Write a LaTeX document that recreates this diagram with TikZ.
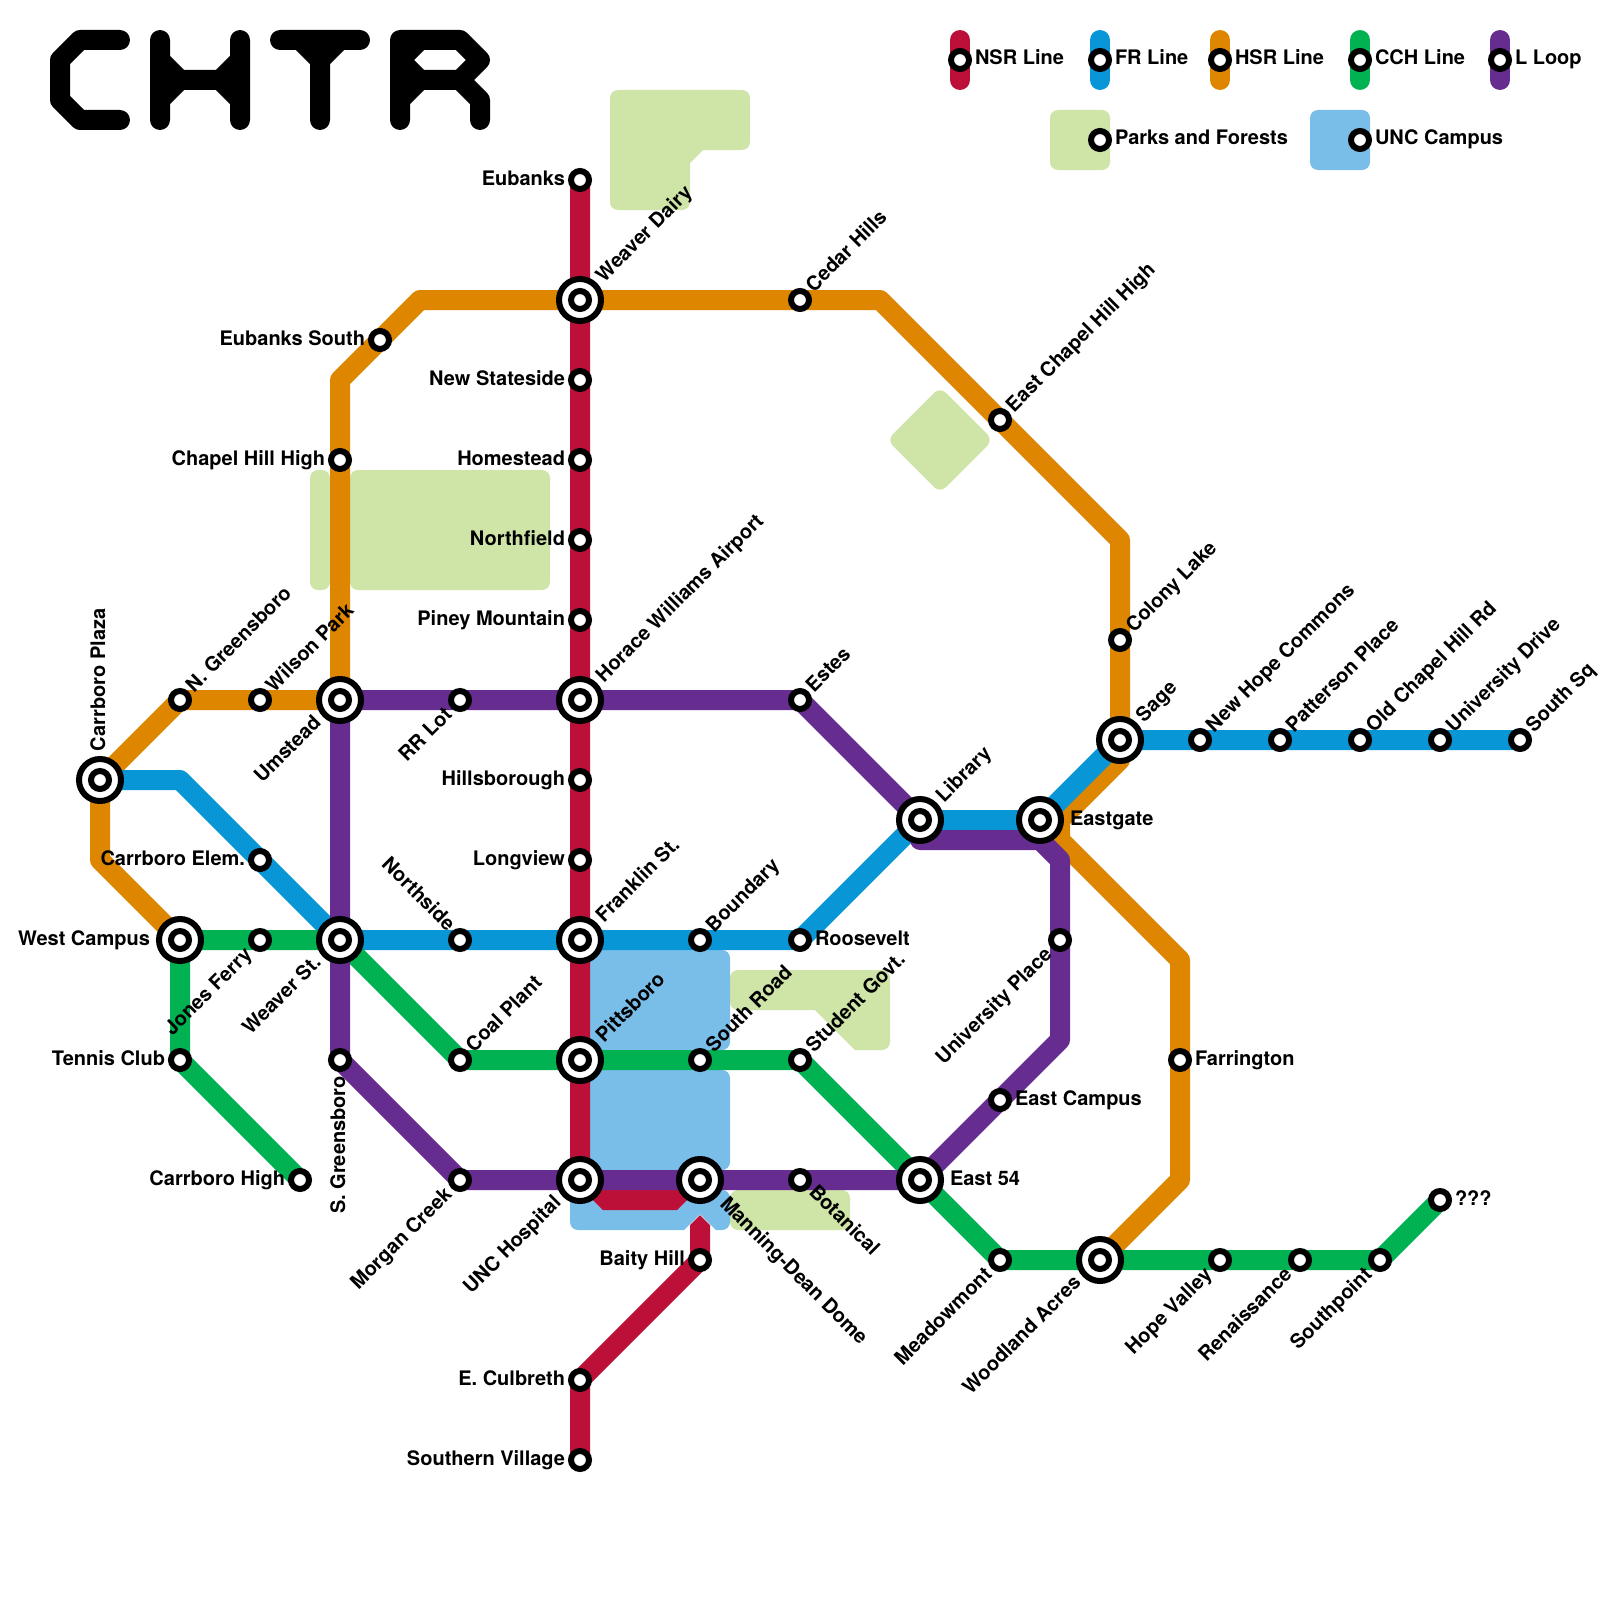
\documentclass[tikz,border=0pt]{standalone}
\usepackage{fontspec}
\setmainfont{TeX Gyre Heros}
\usetikzlibrary{calc}
\definecolor{nsr}{HTML}{BD1038}
\definecolor{fr}{HTML}{0896D7}
\definecolor{hsr}{HTML}{DF8600}
\definecolor{cch}{HTML}{00B251}
\definecolor{lloop}{HTML}{662C90}
\definecolor{park}{HTML}{CFE4A7}
\definecolor{campus}{HTML}{79BDE9}
\pgfdeclarelayer{areas}
\pgfdeclarelayer{lines}
\pgfsetlayers{areas,lines,main}
\tikzset{
  st/.style={circle,draw=black,fill=white,line width=3pt,minimum size=9pt,inner sep=0pt,outer sep=0pt},
  bigst/.style={circle,draw=black,fill=white,line width=3pt,minimum size=21pt,inner sep=0pt,outer sep=0pt,
    path picture={\draw[line width=3pt,fill=white] (path picture bounding box.center) circle (4.5pt);}},
  lbl/.style={inner sep=0pt,outer sep=0pt,font=\fontsize{10pt}{12pt}\selectfont\bfseries,text=black},
  rsm/.style={lbl,anchor=base west,shift={(15,5)}},
  rbg/.style={lbl,anchor=base west,shift={(30,5)}},
  lsm/.style={lbl,anchor=base east,shift={(-15,5)}},
  lbg/.style={lbl,anchor=base east,shift={(-30,5)}},
  ursm/.style={lbl,anchor=base west,shift={(14,-7)},rotate=45},
  urbg/.style={lbl,anchor=base west,shift={(24,-17)},rotate=45},
  dlsm/.style={lbl,anchor=base east,shift={(-7,16)},rotate=45},
  dlbg/.style={lbl,anchor=base east,shift={(-18,24)},rotate=45},
  ulsm/.style={lbl,anchor=base east,shift={(-13,-8)},rotate=-45},
  drsm/.style={lbl,anchor=base west,shift={(8,13)},rotate=-45},
  drbg/.style={lbl,anchor=base west,shift={(19,25)},rotate=-45},
  metro/.style={line width=10pt,line join=round},
  area/.style={rounded corners=4pt},
  glyph/.style={line width=10pt,line join=round,line cap=round,draw=black},
}
\begin{document}
\begin{tikzpicture}[x=0.5pt,y=-0.5pt]
\useasboundingbox (0,0) rectangle (1600,1600);

% title (drawn letterforms)
\draw[glyph] (120,40) -- (80,40) -- (60,60) -- (60,100) -- (80,120) -- (120,120);
\draw[glyph] (160,40) -- (160,120) (240,40) -- (240,120)
  (160,60) -- (180,80) -- (220,80) -- (240,60) (160,100) -- (180,80) (220,80) -- (240,100);
\draw[glyph] (280,40) -- (360,40) (320,120) -- (320,60) -- (300,40) (320,60) -- (340,40);
\draw[glyph] (400,120) -- (400,40) -- (460,40) -- (480,60) -- (460,80) -- (420,80) -- (400,60) -- (420,40)
  (400,100) -- (420,80) (460,80) -- (480,100) -- (480,120);

% stations
\node[st] (eubanks) at (580,180) {};
\node[bigst] (weaverdairy) at (580,300) {};
\node[st] (newstateside) at (580,380) {};
\node[st] (homestead) at (580,460) {};
\node[st] (northfield) at (580,540) {};
\node[st] (pineymtn) at (580,620) {};
\node[bigst] (horace) at (580,700) {};
\node[st] (hillsborough) at (580,780) {};
\node[st] (longview) at (580,860) {};
\node[bigst] (franklin) at (580,940) {};
\node[bigst] (pittsboro) at (580,1060) {};
\node[bigst] (unchospital) at (580,1180) {};
\node[bigst] (manning) at (700,1180) {};
\node[st] (baity) at (700,1260) {};
\node[st] (culbreth) at (580,1380) {};
\node[st] (southernv) at (580,1460) {};
\node[bigst] (plaza) at (100,780) {};
\node[st] (elem) at (260,860) {};
\node[bigst] (weaverst) at (340,940) {};
\node[st] (northside) at (460,940) {};
\node[st] (boundary) at (700,940) {};
\node[st] (roosevelt) at (800,940) {};
\node[bigst] (library) at (920,820) {};
\node[bigst] (eastgate) at (1040,820) {};
\node[bigst] (sage) at (1120,740) {};
\node[st] (newhope) at (1200,740) {};
\node[st] (patterson) at (1280,740) {};
\node[st] (oldchapel) at (1360,740) {};
\node[st] (univdrive) at (1440,740) {};
\node[st] (southsq) at (1520,740) {};
\node[st] (ngreensboro) at (180,700) {};
\node[st] (wilson) at (260,700) {};
\node[bigst] (umstead) at (340,700) {};
\node[st] (chhigh) at (340,460) {};
\node[st] (eubankss) at (380,340) {};
\node[st] (cedar) at (800,300) {};
\node[st] (echhigh) at (1000,420) {};
\node[st] (colony) at (1120,640) {};
\node[st] (farrington) at (1180,1060) {};
\node[bigst] (woodland) at (1100,1260) {};
\node[bigst] (westcampus) at (180,940) {};
\node[st] (carrhigh) at (300,1180) {};
\node[st] (tennis) at (180,1060) {};
\node[st] (jones) at (260,940) {};
\node[st] (coal) at (460,1060) {};
\node[st] (southroad) at (700,1060) {};
\node[st] (studentgov) at (800,1060) {};
\node[bigst] (east54) at (920,1180) {};
\node[st] (meadow) at (1000,1260) {};
\node[st] (hope) at (1220,1260) {};
\node[st] (renaissance) at (1300,1260) {};
\node[st] (southpoint) at (1380,1260) {};
\node[st] (qqq) at (1440,1200) {};
\node[st] (estes) at (800,700) {};
\node[st] (rrlot) at (460,700) {};
\node[st] (univplace) at (1060,940) {};
\node[st] (eastcampus) at (1000,1100) {};
\node[st] (botanical) at (800,1180) {};
\node[st] (morgan) at (460,1180) {};
\node[st] (sgreensboro) at (340,1060) {};

% legend stations
\node[st] (k1) at (960,60) {};
\node[st] (k2) at (1100,60) {};
\node[st] (k3) at (1220,60) {};
\node[st] (k4) at (1360,60) {};
\node[st] (k5) at (1500,60) {};
\node[st] (k6) at (1100,140) {};
\node[st] (k7) at (1360,140) {};

% bends
\coordinate (r1) at (587,1180); \coordinate (r2) at (607,1200);
\coordinate (r3) at (673,1200); \coordinate (r4) at (693,1180);
\coordinate (r5) at (700,1225);
\coordinate (b1) at (180,780);
\coordinate (o1) at (100,860); \coordinate (o2) at (340,380); \coordinate (o3) at (420,300);
\coordinate (o4) at (880,300); \coordinate (o5) at (1120,540); \coordinate (o6) at (1120,760);
\coordinate (o7) at (1060,820); \coordinate (o8) at (1060,840); \coordinate (o9) at (1180,960);
\coordinate (o10) at (1180,1180);
\coordinate (l1) at (920,840); \coordinate (l2) at (1040,840); \coordinate (l3) at (1060,860);
\coordinate (l4) at (1060,1040);

\begin{pgfonlayer}{areas}
\fill[park] [rounded corners=4pt] (610,90) -- (750,90) -- (750,150) [sharp corners] -- (703,150) -- (690,163) [rounded corners=4pt] -- (690,210) -- (610,210) -- cycle;
\fill[park,area] (310,470) -- (330,470) -- (330,590) -- (310,590) -- cycle;
\fill[park,area] (350,470) -- (550,470) -- (550,590) -- (350,590) -- cycle;
\fill[park,area] (940,387) -- (993,440) -- (940,493) -- (887,440) -- cycle;
\fill[park] [rounded corners=4pt] (730,970) -- (890,970) -- (890,1050) [sharp corners] -- (855,1050) -- (815,1010) [rounded corners=4pt] -- (730,1010) -- cycle;
\fill[park,area] (730,1190) -- (850,1190) -- (850,1230) -- (730,1230) -- cycle;
\fill[campus,area] (580,950) -- (730,950) -- (730,1050) -- (580,1050) -- cycle;
\fill[campus,area] (580,1070) -- (730,1070) -- (730,1170) -- (580,1170) -- cycle;
\fill[campus] [rounded corners=4pt] (570,1190) -- (730,1190) -- (730,1230) [sharp corners] -- (716,1230) -- (700,1214) -- (684,1230) [rounded corners=4pt] -- (570,1230) -- cycle;
\fill[park,area] (1050,110) -- (1110,110) -- (1110,170) -- (1050,170) -- cycle;
\fill[campus,area] (1310,110) -- (1370,110) -- (1370,170) -- (1310,170) -- cycle;
\end{pgfonlayer}

\begin{pgfonlayer}{lines}
% NSR
\draw[line width=10pt,line join=miter,nsr] (eubanks.center) -- (unchospital.center) -- (r1) -- (r2) -- (r3) -- (r4) -- (manning.center);
\fill[nsr] (690,1225) -- (700,1215) -- (710,1225) -- cycle;
\draw[metro,nsr] (r5) -- (baity.center) -- (culbreth.center) -- (southernv.center);
% HSR
\draw[metro,hsr] (westcampus.center) -- (o1) -- (plaza.center) -- (ngreensboro.center) -- (umstead.center) -- (o2) -- (o3) -- (o4) -- (o5) -- (sage.center);
\draw[metro,hsr] (sage.center) -- (o6) -- (o7) -- (o8) -- (o9) -- (o10) -- (woodland.center);
% FR
\draw[metro,fr] (plaza.center) -- (b1) -- (weaverst.center) -- (roosevelt.center) -- (library.center) -- (eastgate.center) -- (sage.center) -- (southsq.center);
% CCH
\draw[metro,cch] (carrhigh.center) -- (tennis.center) -- (westcampus.center) -- (weaverst.center) -- (coal.center) -- (studentgov.center) -- (meadow.center) -- (southpoint.center) -- (qqq.center);
% L
\draw[metro,lloop] (horace.center) -- (estes.center) -- (library.center) -- (l1) -- (l2) -- (l3) -- (l4) -- (east54.center) -- (morgan.center) -- (sgreensboro.center) -- (umstead.center) -- cycle;
% legend
\draw[metro,line cap=round,nsr] (960,40) -- (k1.center) -- (960,80);
\draw[metro,line cap=round,fr] (1100,40) -- (k2.center) -- (1100,80);
\draw[metro,line cap=round,hsr] (1220,40) -- (k3.center) -- (1220,80);
\draw[metro,line cap=round,cch] (1360,40) -- (k4.center) -- (1360,80);
\draw[metro,line cap=round,lloop] (1500,40) -- (k5.center) -- (1500,80);
\end{pgfonlayer}

% labels
\node[lsm] (t1) at (eubanks) {Eubanks};
\node[urbg] (t2) at (weaverdairy) {Weaver Dairy};
\node[lsm] (t3) at (newstateside) {New Stateside};
\node[lsm] (t4) at (homestead) {Homestead};
\node[lsm] (t5) at (northfield) {Northfield};
\node[lsm] (t6) at (pineymtn) {Piney Mountain};
\node[urbg] (t7) at (horace) {Horace Williams Airport};
\node[lsm] (t8) at (hillsborough) {Hillsborough};
\node[lsm] (t9) at (longview) {Longview};
\node[urbg] (t10) at (franklin) {Franklin St.};
\node[urbg] (t11) at (pittsboro) {Pittsboro};
\node[dlbg] (t12) at (unchospital) {UNC Hospital};
\node[drbg] (t13) at (manning) {Manning-Dean Dome};
\node[lsm] (t14) at (baity) {Baity Hill};
\node[lsm] (t15) at (culbreth) {E. Culbreth};
\node[lsm] (t16) at (southernv) {Southern Village};
\node[lbl,anchor=base west,shift={(5,-29)},rotate=90] (t17) at (plaza) {Carrboro Plaza};
\node[lsm] (t18) at (elem) {Carrboro Elem.};
\node[dlbg] (t19) at (weaverst) {Weaver St.};
\node[ulsm] (t20) at (northside) {Northside};
\node[ursm] (t21) at (boundary) {Boundary};
\node[rsm] (t22) at (roosevelt) {Roosevelt};
\node[urbg] (t23) at (library) {Library};
\node[rbg] (t24) at (eastgate) {Eastgate};
\node[urbg] (t25) at (sage) {Sage};
\node[ursm] (t26) at (newhope) {New Hope Commons};
\node[ursm] (t27) at (patterson) {Patterson Place};
\node[ursm] (t28) at (oldchapel) {Old Chapel Hill Rd};
\node[ursm] (t29) at (univdrive) {University Drive};
\node[ursm] (t30) at (southsq) {South Sq};
\node[ursm] (t31) at (ngreensboro) {N. Greensboro};
\node[ursm] (t32) at (wilson) {Wilson Park};
\node[dlbg] (t33) at (umstead) {Umstead};
\node[lsm] (t34) at (chhigh) {Chapel Hill High};
\node[lsm] (t35) at (eubankss) {Eubanks South};
\node[ursm] (t36) at (cedar) {Cedar Hills};
\node[ursm] (t37) at (echhigh) {East Chapel Hill High};
\node[ursm] (t38) at (colony) {Colony Lake};
\node[rsm] (t39) at (farrington) {Farrington};
\node[dlbg] (t40) at (woodland) {Woodland Acres};
\node[lbg] (t41) at (westcampus) {West Campus};
\node[lsm] (t42) at (carrhigh) {Carrboro High};
\node[lsm] (t43) at (tennis) {Tennis Club};
\node[dlsm] (t44) at (jones) {Jones Ferry};
\node[ursm] (t45) at (coal) {Coal Plant};
\node[ursm] (t46) at (southroad) {South Road};
\node[ursm] (t47) at (studentgov) {Student Govt.};
\node[rbg] (t48) at (east54) {East 54};
\node[dlsm] (t49) at (meadow) {Meadowmont};
\node[dlsm] (t50) at (hope) {Hope Valley};
\node[dlsm] (t51) at (renaissance) {Renaissance};
\node[dlsm] (t52) at (southpoint) {Southpoint};
\node[rsm] (t53) at (qqq) {???};
\node[ursm] (t54) at (estes) {Estes};
\node[dlsm] (t55) at (rrlot) {RR Lot};
\node[dlsm] (t56) at (univplace) {University Place};
\node[rsm] (t57) at (eastcampus) {East Campus};
\node[drsm] (t58) at (botanical) {Botanical};
\node[dlsm] (t59) at (morgan) {Morgan Creek};
\node[lbl,anchor=base east,shift={(5,16)},rotate=90] (t60) at (sgreensboro) {S. Greensboro};
\node[rsm] (k1t) at (k1) {NSR Line};
\node[rsm] (k2t) at (k2) {FR Line};
\node[rsm] (k3t) at (k3) {HSR Line};
\node[rsm] (k4t) at (k4) {CCH Line};
\node[rsm] (k5t) at (k5) {L Loop};
\node[rsm] (k6t) at (k6) {Parks and Forests};
\node[rsm] (k7t) at (k7) {UNC Campus};
\end{tikzpicture}
\end{document}
